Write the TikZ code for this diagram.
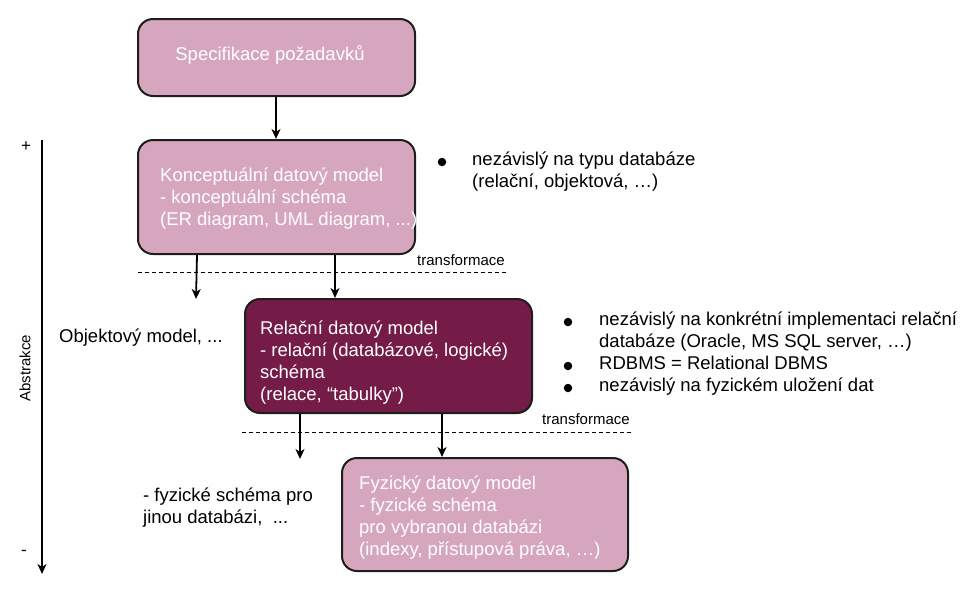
\documentclass[tikz,border=0pt]{standalone}
\usepackage{fontspec}
\setmainfont{Liberation Sans}
\usetikzlibrary{arrows.meta}
\definecolor{lightbox}{HTML}{D5A6BD}
\definecolor{darkbox}{HTML}{741B47}
\definecolor{edge}{HTML}{1E1E1E}
\tikzset{
  box/.style={draw=edge, line width=2pt, rounded corners=15pt, inner sep=0pt},
  lbox/.style={box, fill=lightbox},
  dbox/.style={box, fill=darkbox},
  big/.style={font=\fontsize{18.5}{22}\selectfont, inner sep=0pt, align=left},
  small/.style={font=\fontsize{15}{18}\selectfont, inner sep=0pt},
  sign/.style={font=\fontsize{17}{18}\selectfont, inner sep=0pt},
  boxtext/.style={big, text=white, anchor=west},
  arr/.style={line width=1.8pt, -{Stealth[length=10pt,width=9pt,inset=3pt]}},
  sep/.style={line width=0.9pt, dash pattern=on 4pt off 3pt},
  bul/.style={circle, fill=black, inner sep=0pt, minimum size=8.5pt}
}
\begin{document}
\begin{tikzpicture}[x=1pt,y=-1pt]
\useasboundingbox (0,0) rectangle (972,590);
% boxes
\node[lbox, minimum width=277pt, minimum height=77pt] (b1) at (276.5,57.5) {};
\node[lbox, minimum width=277pt, minimum height=114pt] (b2) at (276.5,197) {};
\node[dbox, minimum width=287pt, minimum height=114pt] (b3) at (388.5,356) {};
\node[lbox, minimum width=286pt, minimum height=113pt] (b4) at (485,514.5) {};
% box texts
\node[big, text=white] (t1) at (270,55) {Specifikace požadavků};
\node[boxtext] (t2) at (160,199) {Konceptuální datový model\\- konceptuální schéma\\(ER diagram, UML diagram, ...)};
\node[boxtext] (t3) at (260,363) {Relační datový model\\- relační (databázové, logické)\\schéma\\(relace, “tabulky”)};
\node[boxtext] (t4) at (359,518) {Fyzický datový model\\- fyzické schéma\\pro vybranou databázi\\(indexy, přístupová práva, …)};
% coordinates for connectors
\coordinate (cx1) at (276,0);
\coordinate (cx2) at (335,0);
\coordinate (cx3) at (300,0);
\coordinate (cx4) at (442,0);
\coordinate (ol) at (196,299);
\coordinate (fl) at (300,459);
% arrows
\draw[arr] (b1.south -| cx1) -- (b2.north -| cx1);
\draw[arr] ([xshift=60pt]b2.south west) -- (ol);
\draw[arr] (b2.south -| cx2) -- (b3.north -| cx2);
\draw[arr] (b3.south -| cx3) -- (fl);
\draw[arr] (b3.south -| cx4) -- (b4.north -| cx4);
% dashed separators
\coordinate (d1a) at (138,272);
\coordinate (d1b) at (508,272);
\coordinate (d2a) at (242,432);
\coordinate (d2b) at (633,432);
\draw[sep] (d1a) -- (d1b);
\draw[sep] (d2a) -- (d2b);
\node[small, anchor=west] (tr1) at (417,260) {transformace};
\node[small, anchor=west] (tr2) at (542,419) {transformace};
% abstraction axis
\coordinate (ax1) at (42,140);
\coordinate (ax2) at (42,574);
\draw[arr] (ax1) -- (ax2);
\node[sign] (plus) at (26,147) {+};
\node[sign] (minus) at (24,553) {-};
\node[small, rotate=90] (abs) at (25,368) {Abstrakce};
% side texts
\node[big, anchor=west] (om) at (59,338) {Objektový model, ...};
\node[big, anchor=west] (fs) at (143,508) {- fyzické schéma pro\\jinou databázi,\ \ ...};
% bullets top
\node[bul] (p1) at (442,162) {};
\node[big, anchor=west] (n1) at (472,172) {nezávislý na typu databáze\\(relační, objektová, …)};
% bullets middle
\node[bul] (p2) at (568,322) {};
\node[bul] (p3) at (568,366) {};
\node[bul] (p4) at (568,388) {};
\node[big, anchor=west] (n2) at (599,354) {nezávislý na konkrétní implementaci relační\\databáze (Oracle, MS SQL server, …)\\RDBMS = Relational DBMS\\nezávislý na fyzickém uložení dat};
\end{tikzpicture}
\end{document}
